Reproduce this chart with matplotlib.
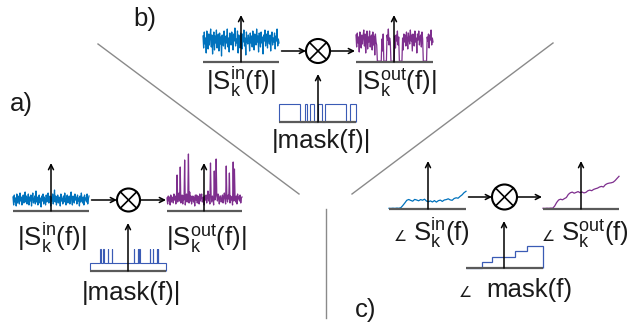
import numpy as np
import matplotlib
matplotlib.use("Agg")
import matplotlib.pyplot as plt
from matplotlib.patches import Circle

W, H = 632, 323
plt.rcParams['font.family'] = ['Liberation Sans', 'DejaVu Sans']
plt.rcParams['mathtext.fontset'] = 'custom'
plt.rcParams['mathtext.rm'] = 'Liberation Sans'
plt.rcParams['mathtext.it'] = 'Liberation Sans:italic'
plt.rcParams['mathtext.bf'] = 'Liberation Sans:bold'

# ---------------- spectra (magnitude, arbitrary units) ----------------
in_a = [14, 6, 16, 9, 13, 5, 17, 8, 15, 11, 7, 18, 10, 14, 6, 12, 16, 8, 13, 19,
        9, 15, 7, 12, 17, 6, 14, 10, 16, 5, 13, 18, 8, 11, 15, 7, 20, 9, 14, 6,
        12, 16, 8, 13, 4, 15, 10, 17, 7, 14, 11, 6, 16, 9, 13, 18, 8, 12, 15, 5,
        14, 10, 17, 7, 13, 21, 9, 15, 6, 12, 16, 8, 14, 11, 5, 17, 10, 13, 7, 15,
        9, 18, 12, 6, 14, 16, 8, 11, 15, 7, 13, 19, 10, 6, 15, 12, 8, 17, 11, 14,
        7, 16, 10, 13, 5, 15, 9, 18, 12, 8, 14, 6, 16, 11, 13, 9, 17, 7, 12, 15]
out_a = [13, 7, 15, 10, 14, 6, 16, 9, 14, 12, 8, 17, 11, 15, 7, 13, 36, 9, 14, 18,
         10, 44, 8, 13, 16, 7, 15, 11, 51, 6, 14, 17, 9, 12, 57, 8, 19, 10, 15, 7,
         13, 15, 9, 14, 5, 16, 11, 16, 8, 15, 12, 7, 17, 10, 14, 17, 9, 13, 14, 6,
         15, 11, 16, 8, 14, 20, 10, 16, 7, 48, 15, 9, 15, 12, 6, 40, 11, 14, 52, 16,
         10, 17, 13, 7, 15, 15, 9, 12, 16, 8, 14, 18, 11, 7, 45, 13, 9, 16, 12, 38,
         8, 15, 11, 14, 6, 49, 10, 42, 13, 9, 15, 7, 17, 12, 14, 10, 16, 8, 13, 14]
mask_a_low = 1.0
mask_a_high = 2.75
mask_a_spikes = [16, 21, 28, 34, 69, 75, 78, 94, 99, 105, 107]

in_b = [26, 14, 30, 18, 24, 9, 31, 20, 13, 28, 17, 25, 33, 15, 27, 8, 22, 30, 12, 26,
        19, 32, 14, 24, 28, 11, 29, 18, 25, 6, 27, 21, 16, 31, 22, 13, 26, 19, 33, 15,
        24, 10, 29, 20, 17, 30, 25, 12, 28, 21, 34, 16, 23, 19, 31, 9, 27, 22, 14, 29,
        25, 13, 28, 20, 32, 16, 24, 7, 30, 21, 18, 27, 23, 11, 29, 19, 26, 15, 31, 22,
        12, 28, 24, 17, 33, 20, 26, 10, 29, 23, 15, 30, 19, 25, 8, 27, 21, 32, 16, 24,
        28, 14, 31, 22, 18, 27, 11, 25, 30, 17, 24, 20, 29, 13, 26, 21, 33, 16, 23, 19]
out_b = [27, 15, 29, 19, 25, 10, 30, 21, 14, 27, 18, 26, 32, 16, 28, 9, 23, 31, 13, 25,
         20, 31, 15, 25, 27, 12, 30, 17, 26, 7, 28, 20, 17, 1, 0, 1, 0, 1, 0, 1,
         23, 11, 28, 1, 0, 1, 0, 1, 27, 22, 33, 17, 24, 20, 1, 0, 1, 0, 0, 1,
         26, 14, 27, 21, 31, 17, 25, 1, 0, 1, 0, 1, 24, 12, 28, 20, 27, 16, 30, 23,
         13, 29, 23, 18, 32, 21, 27, 11, 28, 22, 16, 31, 20, 24, 9, 28, 22, 31, 17, 25,
         27, 15, 30, 23, 1, 0, 1, 0, 1, 0, 25, 21, 28, 14, 27, 22, 32, 17, 24, 20]
mask_b_edges = [0, 32.5, 39.5, 42.5, 47.5, 53.5, 59.5, 66.5, 71.5, 103.5, 109.5, 119]
mask_b_levels = [1, 0, 1, 0, 1, 0, 1, 0, 1, 0, 1]

# ---------------- phases (arbitrary units) ----------------
in_c = [0.7, 0.6, 0.8, 0.6, 0.9, 0.7, 1.3, 3.5, 6.0, 8.7,
        9.5, 8.6, 7.8, 9.6, 9.0, 8.2, 9.4, 8.8, 9.8, 7.9,
        7.3, 8.1, 7.0, 8.4, 6.9, 8.3, 8.9, 7.6, 9.0, 9.4,
        10.2, 9.1, 8.7, 10.5, 11.2, 10.8, 12.6, 14.1, 16.3, 17.7]
out_c = [0.7, 0.6, 0.8, 0.7, 0.9, 0.8, 3.0, 6.5, 9.0, 9.8,
         9.2, 10.4, 11.5, 14.6, 16.2, 16.9, 15.8, 16.6, 17.4, 16.3,
         17.0, 16.1, 16.6, 18.2, 18.9, 18.3, 19.6, 20.3, 20.9, 22.0,
         22.6, 22.0, 24.3, 25.4, 25.9, 26.2, 26.8, 28.4, 30.6, 32.7]
mask_c_edges = [0, 0.204, 0.342, 0.636, 0.788, 1.0]
mask_c_levels = [0, 1, 2, 3, 4]

BLUE = '#0072BD'
PURPLE = '#7E2F8E'
MASK = '#3A5BB5'
BASE = '#5a5a5a'
NOISE_LW = 0.9

fig = plt.figure(figsize=(W / 100, H / 100), dpi=100)


def mini(x0, x1, yb, h, xlim, ymax):
    ax = fig.add_axes([x0 / W, 1 - yb / H, (x1 - x0) / W, h / H])
    ax.set_xlim(*xlim)
    ax.set_ylim(0, ymax)
    ax.axis('off')
    return ax


# ---- panel a: magnitude with spiky mask ----
ax = mini(13, 89, 211, 25, (0, len(in_a) - 1), 25)
ax.plot(np.arange(len(in_a)), in_a, color=BLUE, lw=NOISE_LW, clip_on=False)
ax = mini(167, 242, 211, 60, (0, len(out_a) - 1), 60)
ax.plot(np.arange(len(out_a)), out_a, color=PURPLE, lw=NOISE_LW, clip_on=False)
mask_a = np.full(len(in_a), mask_a_low)
mask_a[mask_a_spikes] = mask_a_high
ax = mini(90, 166, 271, 24, (-0.5, len(mask_a) - 0.5), 3)
ax.stairs(mask_a, np.arange(len(mask_a) + 1) - 0.5, color=MASK, lw=0.8, clip_on=False)

# ---- panel b: magnitude with notch mask ----
ax = mini(203, 279, 62, 35, (0, len(in_b) - 1), 35)
ax.plot(np.arange(len(in_b)), in_b, color=BLUE, lw=NOISE_LW, clip_on=False)
ax = mini(356, 433, 62, 35, (0, len(out_b) - 1), 35)
ax.plot(np.arange(len(out_b)), out_b, color=PURPLE, lw=NOISE_LW, clip_on=False)
ax = mini(279, 356, 122, 18, (0, mask_b_edges[-1]), 1)
ax.stairs(mask_b_levels, mask_b_edges, color=MASK, lw=0.8, clip_on=False)

# ---- panel c: phase with staircase mask ----
ax = mini(389, 466, 209, 20, (0, len(in_c) - 1), 20)
ax.plot(np.arange(len(in_c)), in_c, color=BLUE, lw=0.9, clip_on=False)
ax = mini(543, 619, 209, 35, (0, len(out_c) - 1), 35)
ax.plot(np.arange(len(out_c)), out_c, color=PURPLE, lw=0.9, clip_on=False)
ax = mini(466, 543, 268, 22.3, (0, 1), 4)
ax.stairs(mask_c_levels, mask_c_edges, color=MASK, lw=0.9, clip_on=False)

# ---------------- overlay: axes, arrows, mixers, labels ----------------
ov = fig.add_axes([0, 0, 1, 1], zorder=10)
ov.set_xlim(0, W)
ov.set_ylim(H, 0)
ov.axis('off')


def arrow(x0, y0, x1, y1, lw=1.1):
    ov.annotate('', xy=(x1, y1), xytext=(x0, y0),
                arrowprops=dict(arrowstyle='->', lw=lw, color='k',
                                shrinkA=0, shrinkB=0, mutation_scale=9))


def frame(x0, x1, yb, xa, ytop):
    ov.plot([x0, x1], [yb, yb], color=BASE, lw=1.6, solid_capstyle='butt')
    arrow(xa, yb, xa, ytop)


def mixer(cx, cy, r):
    ov.add_patch(Circle((cx, cy), r, fill=False, lw=1.5, ec='k'))
    d = r / np.sqrt(2)
    ov.plot([cx - d, cx + d], [cy - d, cy + d], color='k', lw=1.2)
    ov.plot([cx - d, cx + d], [cy + d, cy - d], color='k', lw=1.2)


panels = [
    # in-plot, out-plot, mask-plot, mixer
    dict(fin=(13, 89, 211, 51, 163), fout=(167, 242, 211, 204, 163),
         fmask=(90, 166, 271, 128, 223), mix=(128.5, 200, 11.5)),
    dict(fin=(203, 279, 62, 241, 15), fout=(356, 433, 62, 394, 15),
         fmask=(279, 356, 122, 318, 74), mix=(318, 51, 12)),
    dict(fin=(389, 466, 209, 428, 161), fout=(543, 619, 209, 581, 161),
         fmask=(466, 543, 268, 504, 221), mix=(504.5, 197, 12.5)),
]
for p in panels:
    frame(*p['fin'])
    frame(*p['fout'])
    frame(*p['fmask'])
    cx, cy, r = p['mix']
    mixer(cx, cy, r)
    arrow(p['fin'][1] + 2.5, cy, cx - r, cy)
    arrow(cx + r, cy, p['fout'][0] - 1, cy)

# separators
SEP = '#8a8a8a'
ov.plot([98, 299], [44, 194], color=SEP, lw=1.0)
ov.plot([553, 352], [43, 194], color=SEP, lw=1.0)
ov.plot([326, 326], [209, 318], color=SEP, lw=1.0)

FS = 18.5
S_IN = r'$|\mathrm{S}_{\mathrm{k}}^{\mathrm{in}}\mathrm{(f)}|$'
S_OUT = r'$|\mathrm{S}_{\mathrm{k}}^{\mathrm{out}}\mathrm{(f)}|$'
P_IN = r'$\mathrm{S}_{\mathrm{k}}^{\mathrm{in}}\mathrm{(f)}$'
P_OUT = r'$\mathrm{S}_{\mathrm{k}}^{\mathrm{out}}\mathrm{(f)}$'
TXT = '#1a1a1a'

ov.text(52, 246, S_IN, fontsize=FS, ha='center', va='baseline', color=TXT)
ov.text(206, 246, S_OUT, fontsize=FS, ha='center', va='baseline', color=TXT)
ov.text(131, 300, '|mask(f)|', fontsize=FS, ha='center', va='baseline', color=TXT)

ov.text(241, 90, S_IN, fontsize=FS, ha='center', va='baseline', color=TXT)
ov.text(396, 90, S_OUT, fontsize=FS, ha='center', va='baseline', color=TXT)
ov.text(321, 148, '|mask(f)|', fontsize=FS, ha='center', va='baseline', color=TXT)

ANG = dict(fontsize=10.5, ha='left', va='baseline', color=TXT, family=['DejaVu Sans'])
ov.text(394, 241, '\u2220', **ANG)
ov.text(413, 241, P_IN, fontsize=FS, ha='left', va='baseline', color=TXT)
ov.text(542, 241, '\u2220', **ANG)
ov.text(561, 241, P_OUT, fontsize=FS, ha='left', va='baseline', color=TXT)
ov.text(459, 297, '\u2220', **ANG)
ov.text(486, 297, 'mask(f)', fontsize=FS, ha='left', va='baseline', color=TXT)

ov.text(10, 111, 'a)', fontsize=FS, ha='left', va='baseline', color=TXT)
ov.text(133, 26, 'b)', fontsize=FS, ha='left', va='baseline', color=TXT)
ov.text(355, 317, 'c)', fontsize=FS, ha='left', va='baseline', color=TXT)

fig.savefig('out.png', dpi=100)
